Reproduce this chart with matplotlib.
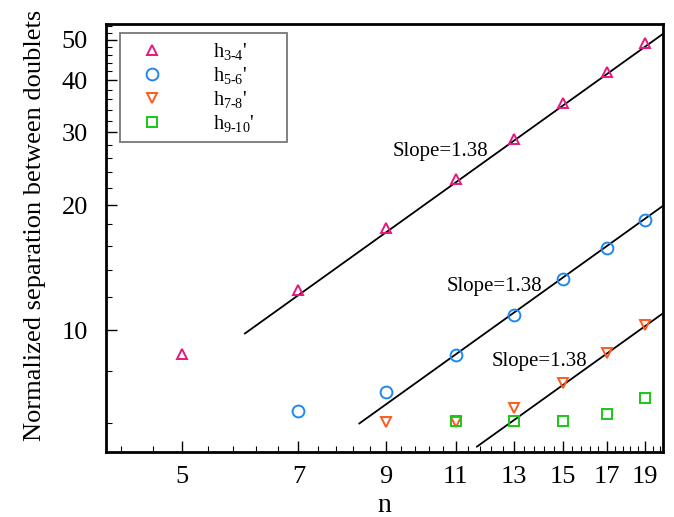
import matplotlib
matplotlib.use("Agg")
import matplotlib.pyplot as plt
from matplotlib.ticker import FixedLocator, NullFormatter, FixedFormatter

plt.rcParams['font.family'] = ['Liberation Serif', 'DejaVu Serif']
plt.rcParams['mathtext.fontset'] = 'custom'
plt.rcParams['mathtext.rm'] = 'Liberation Serif'
plt.rcParams['mathtext.it'] = 'Liberation Serif:italic'

# data
n_34 = [5, 7, 9, 11, 13, 15, 17, 19]
h_34 = [8.75, 12.5, 17.6, 23.1, 28.9, 35.3, 41.9, 49.3]
n_56 = [7, 9, 11, 13, 15, 17, 19]
h_56 = [6.38, 7.09, 8.7, 10.9, 13.3, 15.8, 18.4]
n_78 = [9, 11, 13, 15, 17, 19]
h_78 = [6.03, 6.03, 6.52, 7.49, 8.8, 10.3]
n_910 = [11, 13, 15, 17, 19]
h_910 = [6.06, 6.06, 6.06, 6.3, 6.89]

# power-law fit lines: y = y0 * (x / x0) ** slope, drawn from x0 to the right edge
slope = 1.38
fit_x0 = [6.0, 8.34, 11.7]
fit_y0 = [9.83, 5.97, 5.25]
x_end = 20

# where the "Slope=" notes sit (left edge, baseline)
note_x = [9.17, 10.71, 12.22]
note_y = [26.3, 12.42, 8.23]

x_ticks = [5, 7, 9, 11, 13, 15, 17, 19]
y_ticks = [10, 20, 30, 40, 50]

fig = plt.figure(figsize=(6.74, 5.17), dpi=100)
ax = fig.add_axes([0.157, 0.126, 0.827, 0.828])

# fit lines
for x0, y0 in zip(fit_x0, fit_y0):
    xs = [x0, x_end]
    ys = [y0 * (x / x0) ** slope for x in xs]
    ax.plot(xs, ys, color="black", lw=1.3, zorder=2)

ms = 7.5
mew = 1.4
ax.plot(n_34, h_34, ls="none", marker="^", ms=ms, mew=mew, mfc="none", mec="#E8177F",
        label=r"h$_{\rm 3\text{-}4}$'", zorder=3)
ax.plot(n_56, h_56, ls="none", marker="o", ms=ms + 1, mew=mew, mfc="none", mec="#1E88F0",
        label=r"h$_{\rm 5\text{-}6}$'", zorder=3)
ax.plot(n_78, h_78, ls="none", marker="v", ms=ms, mew=mew, mfc="none", mec="#FF5A1E",
        label=r"h$_{\rm 7\text{-}8}$'", zorder=3)
ax.plot(n_910, h_910, ls="none", marker="s", ms=ms - 1, mew=mew, mfc="none", mec="#18C818",
        label=r"h$_{\rm 9\text{-}10}$'", zorder=3)

ax.set_xscale("log")
ax.set_yscale("log")
ax.set_xlim(4.02, 20)
ax.set_ylim(5.1, 54.7)

# Tecplot style ticks
ax.xaxis.set_major_locator(FixedLocator(x_ticks))
ax.xaxis.set_major_formatter(FixedFormatter([str(v) for v in x_ticks]))
x_minor = [round(4.2 + 0.4 * i, 2) for i in range(40)]
x_minor = [v for v in x_minor if v < 20 and v not in x_ticks]
ax.xaxis.set_minor_locator(FixedLocator(x_minor))
ax.xaxis.set_minor_formatter(NullFormatter())

ax.yaxis.set_major_locator(FixedLocator(y_ticks))
ax.yaxis.set_major_formatter(FixedFormatter([str(v) for v in y_ticks]))
y_minor = [v for v in range(6, 55, 2) if v not in y_ticks]
ax.yaxis.set_minor_locator(FixedLocator(y_minor))
ax.yaxis.set_minor_formatter(NullFormatter())

ax.tick_params(which="major", direction="in", length=8, width=1.0, labelsize=19,
               top=False, right=False)
ax.tick_params(axis="x", which="major", pad=10)
ax.tick_params(axis="y", which="major", pad=13)
ax.tick_params(which="minor", direction="in", length=4, width=0.8, top=False, right=False)

for s in ax.spines.values():
    s.set_linewidth(2)

ax.set_xlabel("n", fontsize=20, labelpad=4)
ax.set_ylabel("Normalized separation between doublets", fontsize=19)
ax.yaxis.set_label_coords(-0.108, 0.53)

# slope annotations
for x, y in zip(note_x, note_y):
    ax.text(x, y, "Slope=1.38", fontsize=15, va="baseline")

leg = ax.legend(loc="upper left", bbox_to_anchor=(0.025, 0.979, 0.30, 0.0), mode="expand",
                fontsize=14.5, frameon=True, fancybox=False, handletextpad=1.85,
                labelspacing=0.15, borderpad=0.4, handlelength=2.4, borderaxespad=0)
leg.get_frame().set_edgecolor("#555555")
leg.get_frame().set_linewidth(1.3)

plt.savefig("out.png", dpi=100)
